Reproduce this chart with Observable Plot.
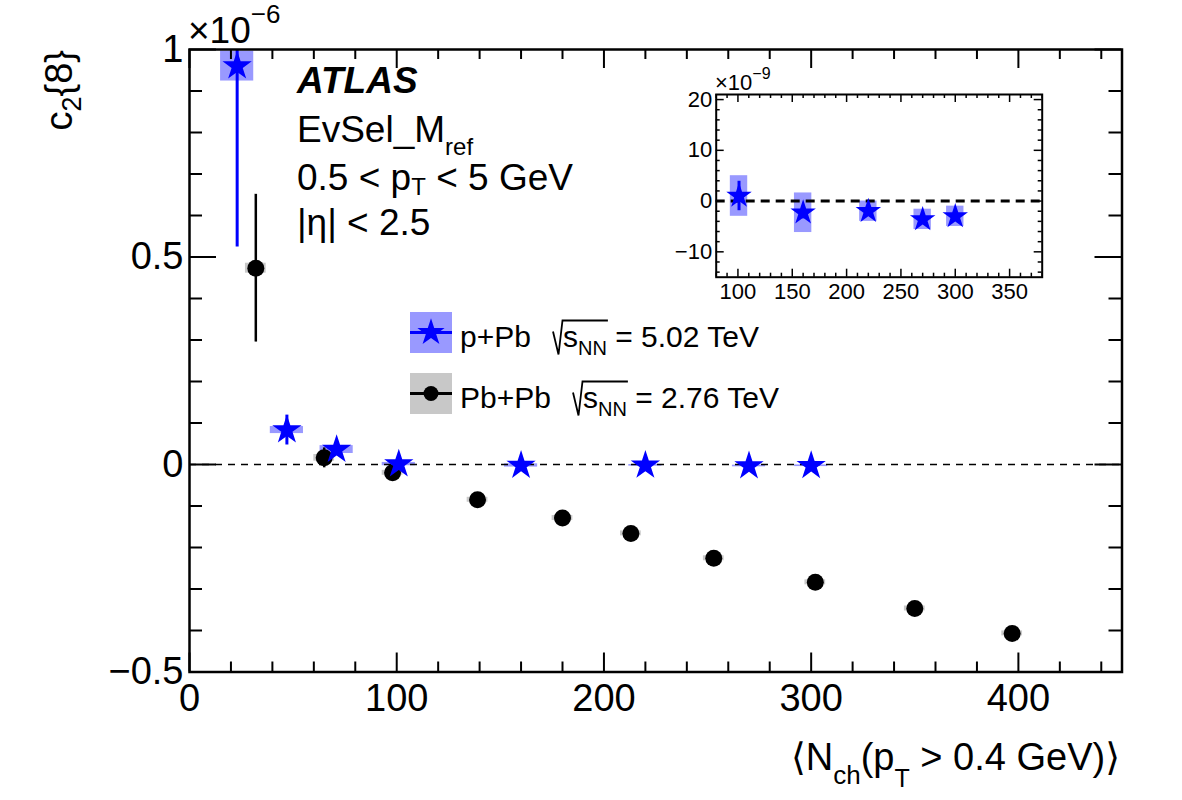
<!DOCTYPE html>
<html><head><meta charset="utf-8">
<script src="https://cdn.jsdelivr.net/npm/d3@7"></script>
<script src="https://cdn.jsdelivr.net/npm/@observablehq/plot@0.6"></script>
<style>
body{margin:0;background:#fff;}
#wrap{position:relative;width:1182px;height:800px;overflow:hidden;}
#wrap svg{position:absolute;overflow:visible;}
text{white-space:pre;}
</style></head><body><div id="wrap"></div>
<script>
// ---- data (c2{8} in units of 1e-6) ----
const pPbX    = [23, 47, 71, 101, 160, 220, 270, 300];
const pPbY    = [0.96, 0.083, 0.036, 0.0010, -0.0023, -0.0020, -0.0036, -0.0030];
const pPbStat = [0.436, 0.036, 0.008, 0.0029, 0.0012, 0.0008, 0.0008, 0.0008];
const pPbSyst = [0.036, 0.0085, 0.0095, 0.0040, 0.0039, 0.0020, 0.0020, 0.0020];

const PbPbX    = [32, 65, 98, 139, 180, 213, 253, 302, 350, 397];
const PbPbY    = [0.473, 0.016, -0.020, -0.085, -0.129, -0.166, -0.226, -0.284, -0.347, -0.407];
const PbPbStat = [0.178, 0.024, 0.006, 0.004, 0.004, 0.004, 0.004, 0.004, 0.004, 0.004];
const PbPbSyst = [0.012, 0.008, 0.006, 0.006, 0.006, 0.006, 0.006, 0.006, 0.006, 0.006];

const xMajor = [0, 100, 200, 300, 400];
const yMajor = [-0.5, 0, 0.5, 1];
const insetXMajor = [100, 150, 200, 250, 300, 350];
const insetYMajor = [-10, 0, 10, 20];
const insetScale = 1000; // 1e-6 -> 1e-9 units

const FONT = "'Liberation Sans', Arial, Helvetica, 'DejaVu Sans', sans-serif";

const pp = pPbX.map((x, i) => ({x, y: pPbY[i], s: pPbStat[i], e: pPbSyst[i]}));
const pb = PbPbX.map((x, i) => ({x, y: PbPbY[i], s: PbPbStat[i], e: PbPbSyst[i]}));

const W = 1182, H = 800;
const mL = 189, mR = W - 1121.5, mT = 49, mB = H - 671.5;
const fw = W - mL - mR, fh = H - mT - mB;

const xMinor = d3.range(20, 450, 20).filter(d => d % 100 !== 0);
const yMinor = d3.range(-5, 11).filter(d => d % 5 !== 0).map(d => d / 10);
const fmtY = d => d === 0 ? "0" : d === 1 ? "1" : (d < 0 ? "\u2212" : "") + Math.abs(d).toFixed(1);

const bw = 8;   // half width of systematic box (x units)
const bwG = 5;

function ticksX(vals, len, w) {
  return [
    Plot.tickX(vals, {x: d => d, insetTop: fh - len, stroke: "black", strokeWidth: w}),
    Plot.tickX(vals, {x: d => d, insetBottom: fh - len, stroke: "black", strokeWidth: w})
  ];
}
function ticksY(vals, len, w) {
  return [
    Plot.tickY(vals, {y: d => d, insetRight: fw - len, stroke: "black", strokeWidth: w}),
    Plot.tickY(vals, {y: d => d, insetLeft: fw - len, stroke: "black", strokeWidth: w})
  ];
}

const main = Plot.plot({
  width: W, height: H,
  marginLeft: mL, marginRight: mR, marginTop: mT, marginBottom: mB,
  style: {fontFamily: FONT, fontSize: "38px", background: "transparent", color: "black"},
  x: {domain: [0, 450]},
  y: {domain: [-0.5, 1]},
  marks: [
    Plot.rect(pb, {x1: d => d.x - bwG, x2: d => d.x + bwG, y1: d => d.y - d.e, y2: d => d.y + d.e, fill: "#c8c8c8"}),
    Plot.rect(pp, {x1: d => d.x - bw, x2: d => d.x + bw, y1: d => d.y - d.e, y2: d => d.y + d.e, fill: "#9999ff", clip: true}),
    Plot.ruleY([0], {stroke: "black", strokeWidth: 1.5, strokeDasharray: "7,6"}),
    Plot.ruleX(pb, {x: "x", y1: d => d.y - d.s, y2: d => d.y + d.s, stroke: "black", strokeWidth: 2.5}),
    Plot.dot(pb, {x: "x", y: "y", r: 8.5, fill: "black"}),
    Plot.ruleX(pp, {x: "x", y1: d => d.y - d.s, y2: d => d.y + d.s, stroke: "blue", strokeWidth: 3, clip: true}),
    Plot.dot(pp, {x: "x", y: "y", symbol: "star", r: 9.2, fill: "blue", clip: true}),
    ...ticksX(xMajor, 19, 2), ...ticksX(xMinor, 10, 2),
    ...ticksY(yMajor, 27, 2), ...ticksY(yMinor, 13, 2),
    Plot.frame({stroke: "black", strokeWidth: 2.5}),
    Plot.axisX({ticks: xMajor, tickSize: 0, tickPadding: 12, label: null, fontSize: 38}),
    Plot.axisY({ticks: yMajor, tickSize: 0, tickPadding: 6, label: null, tickFormat: fmtY, fontSize: 38})
  ]
});
main.style.left = "0px"; main.style.top = "0px";
document.getElementById("wrap").appendChild(main);

// ---- inset ----
const iW = 400, iH = 250, iLeft = 660, iTop = 60;
const imL = 715.7 - iLeft, imR = iLeft + iW - 1041.7, imT = 94 - iTop, imB = iTop + iH - 276.7;
const ifw = iW - imL - imR, ifh = iH - imT - imB;
const ipp = pp.filter(d => d.x >= 80).map(d => ({x: d.x, y: d.y * insetScale, s: d.s * insetScale, e: d.e * insetScale}));
const ixMinor = d3.range(80, 381, 10).filter(d => d % 50 !== 0);
const iyMinor = d3.range(-14, 21, 2).filter(d => d % 10 !== 0);
function iticksX(vals, len) {
  return [
    Plot.tickX(vals, {x: d => d, insetTop: ifh - len, stroke: "black", strokeWidth: 1.5}),
    Plot.tickX(vals, {x: d => d, insetBottom: ifh - len, stroke: "black", strokeWidth: 1.5})
  ];
}
function iticksY(vals, len) {
  return [
    Plot.tickY(vals, {y: d => d, insetRight: ifw - len, stroke: "black", strokeWidth: 1.5}),
    Plot.tickY(vals, {y: d => d, insetLeft: ifw - len, stroke: "black", strokeWidth: 1.5})
  ];
}
const inset = Plot.plot({
  width: iW, height: iH,
  marginLeft: imL, marginRight: imR, marginTop: imT, marginBottom: imB,
  style: {fontFamily: FONT, fontSize: "22px", background: "transparent", color: "black"},
  x: {domain: [80, 380]},
  y: {domain: [-15, 21]},
  marks: [
    Plot.rect(ipp, {x1: d => d.x - bw, x2: d => d.x + bw, y1: d => d.y - d.e, y2: d => d.y + d.e, fill: "#9999ff"}),
    Plot.ruleY([0], {stroke: "black", strokeWidth: 3, strokeDasharray: "9,6"}),
    Plot.ruleX(ipp, {x: "x", y1: d => d.y - d.s, y2: d => d.y + d.s, stroke: "blue", strokeWidth: 3}),
    Plot.dot(ipp, {x: "x", y: "y", symbol: "star", r: 8, fill: "blue"}),
    ...iticksX(insetXMajor, 8), ...iticksX(ixMinor, 4),
    ...iticksY(insetYMajor, 8), ...iticksY(iyMinor, 4),
    Plot.frame({stroke: "black", strokeWidth: 2}),
    Plot.axisX({ticks: insetXMajor, tickSize: 0, tickPadding: 6, label: null, fontSize: 22}),
    Plot.axisY({ticks: insetYMajor, tickSize: 0, tickPadding: 4, label: null, fontSize: 22, tickFormat: d => (d < 0 ? "\u2212" : "") + Math.abs(d)})
  ]
});
inset.style.left = iLeft + "px"; inset.style.top = iTop + "px";
document.getElementById("wrap").appendChild(inset);

// ---- rich text helper ----
function rich(sel, x, y, parts, o = {}) {
  const t = sel.append("text").attr("x", x).attr("y", y)
    .attr("font-size", o.size || 37).attr("font-family", FONT)
    .attr("text-anchor", o.anchor || "start").attr("fill", "black");
  if (o.weight) t.attr("font-weight", o.weight);
  if (o.style) t.attr("font-style", o.style);
  if (o.rotate) t.attr("transform", `rotate(${o.rotate},${x},${y})`);
  let cur = 0;
  const spans = [];
  for (const p of parts) {
    const dy = p.dy || 0;
    const s = t.append("tspan").text(p.t).attr("dy", dy - cur);
    cur = dy;
    if (p.size) s.attr("font-size", p.size);
    spans.push(s);
  }
  return {t, spans};
}

const g = d3.select(main).append("g");
// exponent label
rich(g, 188, 43, [{t: "\u00d710"}, {t: "\u22126", size: 26, dy: -20}], {size: 37});
// y title
rich(g, 72, 50, [{t: "c"}, {t: "2", size: 27, dy: 9}, {t: "{8}", dy: 0}], {size: 38, anchor: "end", rotate: -90});
// x title
rich(g, 1120, 770, [{t: "\u27e8N"}, {t: "ch", size: 26, dy: 14}, {t: "(p", dy: 0}, {t: "T", size: 25, dy: 17}, {t: " > 0.4 GeV)\u27e9", dy: 0}], {size: 38, anchor: "end"});

// labels
rich(g, 297, 93, [{t: "ATLAS"}], {size: 37, weight: "bold", style: "italic"});
rich(g, 297, 141.5, [{t: "EvSel_M"}, {t: "ref", size: 24, dy: 13}], {size: 37});
rich(g, 297, 190, [{t: "0.5 < p"}, {t: "T", size: 24, dy: 5}, {t: " < 5 GeV", dy: 0}], {size: 37});
rich(g, 297, 235, [{t: "|\u03b7| < 2.5"}], {size: 37});

// legend
function legendRow(y0, boxFill, lineColor, marker, label, energy, sqrtX) {
  g.append("rect").attr("x", 410).attr("y", y0).attr("width", 42).attr("height", 41).attr("fill", boxFill);
  const cy = y0 + 20.5;
  g.append("line").attr("x1", 410).attr("x2", 452).attr("y1", cy).attr("y2", cy).attr("stroke", lineColor).attr("stroke-width", 3);
  if (marker === "star") g.append("path").attr("d", d3.symbol(d3.symbolStar, 230)()).attr("transform", `translate(431,${cy})`).attr("fill", "blue");
  else g.append("circle").attr("cx", 431).attr("cy", cy).attr("r", 7.5).attr("fill", "black");
  const b = y0 + 34.5;
  rich(g, 460, b, [{t: label}], {size: 30});
  const r = rich(g, sqrtX + 10, b, [{t: "s"}, {t: "NN", size: 20, dy: 8}, {t: " = " + energy, dy: 0}], {size: 30});
  const w = r.spans[0].node().getComputedTextLength() + r.spans[1].node().getComputedTextLength();
  const top = b - 26;
  g.append("path").attr("d", `M${sqrtX},${b - 15}L${sqrtX + 5.5},${b + 8}L${sqrtX + 9.5},${top}L${sqrtX + 10 + w + 1},${top}`)
    .attr("fill", "none").attr("stroke", "black").attr("stroke-width", 1.8);
}
legendRow(312, "#9999ff", "blue", "star", "p+Pb", "5.02 TeV", 553);
legendRow(373, "#c8c8c8", "black", "dot", "Pb+Pb", "2.76 TeV", 573);

// inset exponent
const gi = d3.select(inset).append("g");
rich(gi, 715 - iLeft, 90 - iTop, [{t: "\u00d710"}, {t: "\u22129", size: 16, dy: -11}], {size: 22});
</script></body></html>
